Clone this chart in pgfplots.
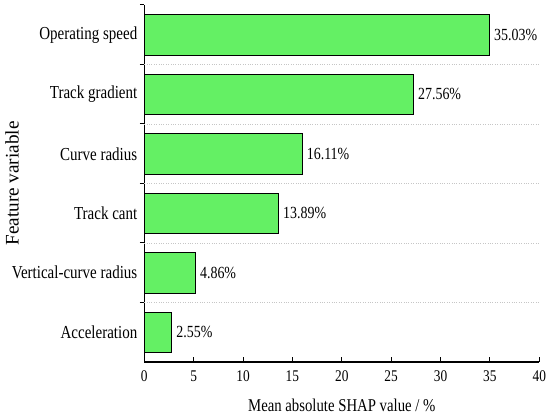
\documentclass[border=0pt]{standalone}
\usepackage{pgfplots}
\pgfplotsset{compat=1.18}
\usepackage{pgfplotstable}
\usepackage{fontspec}
\setmainfont[FakeStretch=0.82]{Liberation Serif}
\newfontfamily\ylfont{Liberation Serif}
\definecolor{barg}{RGB}{100,240,100}
\pgfplotstableread{
y x lab
0 2.78 2.55
1 5.17 4.86
2 13.58 13.89
3 15.98 16.11
4 27.25 27.56
5 34.95 35.03
}\shapdata
\begin{document}
\begin{tikzpicture}
\begin{axis}[
  scale only axis,
  width=395pt, height=357pt,
  xmin=0, xmax=40, ymin=-0.5, ymax=5.5,
  axis lines*=left,
  axis line style={black, line width=1.1pt},
  xtick={0,5,...,40},
  xtick align=inside,
  ytick align=outside,
  major tick length=4.5pt,
  tick style={black, line width=1pt},
  ytick={0.5,1.5,2.5,3.5,4.5,5.5},
  yticklabels={Acceleration,Vertical-curve radius,Track cant,Curve radius,Track gradient,Operating speed},
  y tick label style={font=\fontsize{18.3}{20}\selectfont, xshift=1pt, yshift=-29.75pt},
  extra y ticks={0.5,1.5,2.5,3.5,4.5},
  extra y tick labels={},
  extra y tick style={grid=major},
  grid style={gray!45, dotted, line width=0.7pt},
  /pgf/number format/assume math mode=true,
  x tick label style={font=\fontsize{16.3}{18}\selectfont, yshift=-5pt},
  xlabel={Mean absolute SHAP value / \%},
  ylabel={Feature variable},
  xlabel style={font=\fontsize{18}{20}\selectfont, at={(axis description cs:0.5,0)}, anchor=center, yshift=-43pt},
  ylabel style={font=\ylfont\fontsize{19.2}{21}\selectfont, at={(axis description cs:-0.335,0.5)}, anchor=center},
  xbar, bar width=0.68,
  point meta=explicit symbolic,
  nodes near coords={\pgfplotspointmeta\%},
  nodes near coords style={font=\fontsize{17}{19}\selectfont, anchor=west, black, xshift=1pt},
  clip=false,
]
\addplot[draw=black, line width=0.8pt, fill=barg] table[x=x, y=y, meta=lab] {\shapdata};
\end{axis}
\path ([xshift=-144.3pt,yshift=-55pt]current axis.south west) rectangle ([xshift=10.7pt,yshift=5pt]current axis.north east);
\end{tikzpicture}
\end{document}
